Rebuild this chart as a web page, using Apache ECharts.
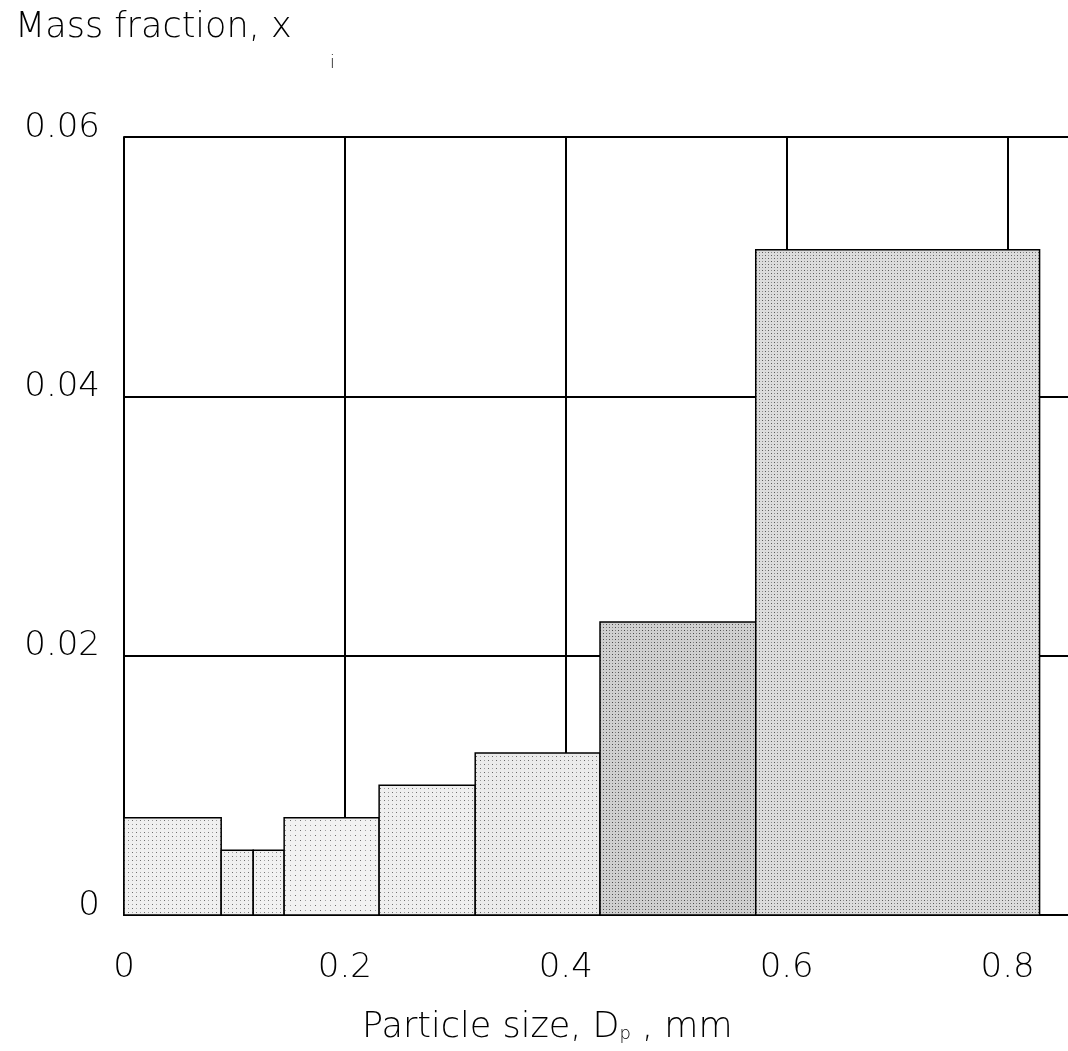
<!DOCTYPE html>
<html>
<head>
<meta charset="utf-8">
<script src="https://cdn.jsdelivr.net/npm/echarts@6/dist/echarts.min.js"></script>
<style>html,body{margin:0;padding:0;background:#fff}#c{width:1068px;height:1051px}</style>
</head>
<body>
<div id="c"></div>
<script>
// Bin edges (mm) and mass fractions
const binStart = [0, 0.088, 0.117, 0.145, 0.231, 0.318, 0.431, 0.572];
const binEnd   = [0.088, 0.117, 0.145, 0.231, 0.318, 0.431, 0.572, 0.829];
const massFraction = [0.0075, 0.0050, 0.0050, 0.0075, 0.0100, 0.0125, 0.0226, 0.0513];
const xTicks = [0, 0.2, 0.4, 0.6, 0.8];
const yTicks = [0, 0.02, 0.04, 0.06];

// stipple style per bar: [tile size, background grey, dot grey]
const stippleStyle = [
  [4, '#f0f0f0', '#6e6e6e'], [4, '#f0f0f0', '#6e6e6e'], [4, '#f2f2f2', '#7a7a7a'],
  [5, '#f2f2f2', '#6e6e6e'], [4, '#efefef', '#6e6e6e'], [4, '#ebebeb', '#666666'],
  [3, '#cfcfcf', '#4a4a4a'], [3, '#dcdcdc', '#5a5a5a']
];

const FONT = '"DejaVu Sans", sans-serif';
const data = binStart.map((s, i) => [s, binEnd[i], massFraction[i], i]);

function makePattern(st) {
  const n = st[0];
  const c = document.createElement('canvas');
  c.width = n * 2; c.height = n * 2;
  const g = c.getContext('2d');
  g.fillStyle = st[1];
  g.fillRect(0, 0, c.width, c.height);
  g.fillStyle = st[2];
  g.fillRect(0, 0, 1, 1);
  g.fillRect(n, n, 1, 1);
  g.globalAlpha = 0.6;
  g.fillRect(n, 0, 1, 1);
  g.fillRect(0, n, 1, 1);
  return {image: c, repeat: 'repeat'};
}
const patterns = stippleStyle.map(makePattern);

const chart = echarts.init(document.getElementById('c'), null, {renderer: 'canvas'});
chart.setOption({
  backgroundColor: '#fff',
  animation: false,
  grid: {left: 124, top: 137, width: 994, height: 778, containLabel: false, outerBoundsMode: 'none'},
  xAxis: {
    type: 'value', min: 0, max: 0.9, interval: 0.2,
    axisLine: {show: true, lineStyle: {color: '#000', width: 2}},
    axisTick: {show: false},
    splitLine: {show: true, lineStyle: {color: '#000', width: 2}},
    axisLabel: {
      margin: 36, color: '#000', fontFamily: FONT, fontWeight: 200, fontSize: 34,
      formatter: v => xTicks.includes(Math.round(v * 10) / 10) ? String(Math.round(v * 10) / 10) : ''
    }
  },
  yAxis: {
    type: 'value', min: 0, max: 0.06, interval: 0.02,
    axisLine: {show: true, lineStyle: {color: '#000', width: 2}},
    axisTick: {show: false},
    splitLine: {show: true, lineStyle: {color: '#000', width: 2}},
    axisLabel: {
      margin: 24, color: '#000', fontFamily: FONT, fontWeight: 200, fontSize: 34,
      formatter: v => {
        const r = Math.round(v * 100) / 100;
        return yTicks.includes(r) ? '{a|' + (r === 0 ? '0' : r.toFixed(2)) + '}' : '';
      },
      rich: {a: {fontFamily: FONT, fontWeight: 200, fontSize: 34, color: '#000', padding: [0, 0, 18, 0]}}
    }
  },
  series: [{
    type: 'custom',
    data: data,
    encode: {x: [0, 1], y: 2},
    renderItem: (params, api) => {
      const p0 = api.coord([api.value(0), api.value(2)]);
      const p1 = api.coord([api.value(1), 0]);
      const idx = api.value(3);
      return {
        type: 'rect',
        shape: {x: p0[0], y: p0[1], width: p1[0] - p0[0], height: p1[1] - p0[1]},
        style: {fill: patterns[idx], stroke: '#000', lineWidth: 1.5}
      };
    },
    z: 5
  }],
  graphic: [
    {type: 'text', left: 15, top: 10, z: 10,
     style: {text: 'Mass fraction, x', fontFamily: FONT, fontWeight: 200, fontSize: 35, fill: '#000'}},
    {type: 'text', left: 330, top: 55, z: 10,
     style: {text: 'i', fontFamily: FONT, fontWeight: 200, fontSize: 17, fill: '#000'}},
    {type: 'text', left: 362, top: 1010, z: 10,
     style: {
       text: 'Particle size, D{s|p} , mm',
       fontFamily: FONT, fontWeight: 200, fontSize: 35, fill: '#000',
       rich: {s: {fontFamily: FONT, fontWeight: 200, fontSize: 18, fill: '#000', padding: [14, 0, 0, 0]}}
     }}
  ]
});
</script>
</body>
</html>
